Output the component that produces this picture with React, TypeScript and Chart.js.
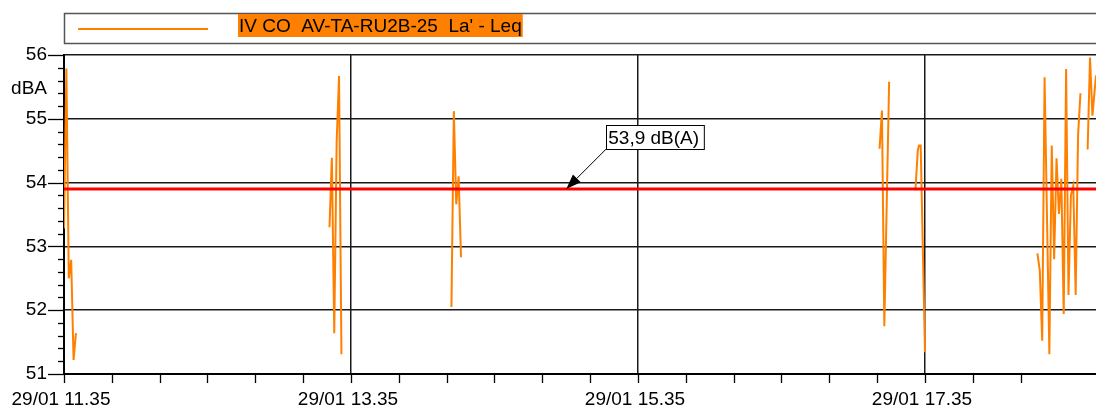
import React, { useEffect, useRef } from 'react';
import { Chart, registerables } from 'chart.js';

Chart.register(...registerables);

// ---- data ----
const seriesLabel = "IV CO  AV-TA-RU2B-25  La' - Leq";
const dateLabel = '29/01';
const startHour = 11;
const startMinute = 35;
// minutes after 29/01 11.35 (null value = no measurement -> gap)
const minutes = [
  0, 1, 2, 3, 4, 5, 6,
  111, 112, 113, 114, 115, 116, 117,
  162, 163, 164, 165, 166, 167,
  341, 342, 343, 345, 346,
  356, 357, 357.5, 358.2, 360, 361,
  407, 408, 409, 410, 412, 413, 414, 415, 416, 417, 418, 419, 420, 421, 422, 423, 424, 425, 426,
  428, 429, 430, 431.5,
];
const leq = [
  53.28, 55.79, 52.5, 52.79, 51.22, 51.64, null,
  53.3, 54.39, 51.64, 54.64, 55.67, 51.31, null,
  52.05, 55.12, 53.66, 54.1, 52.83, null,
  54.53, 55.13, 51.75, 55.58, null,
  53.88, 54.51, 54.58, 54.58, 51.34, null,
  52.89, 52.62, 51.52, 55.65, 51.31, 54.58, 52.8, 54.38, 53.51, 54.06, 51.94, 55.78, 52.24, 53.8, 53.95, 52.24, 54.74, 55.4, null,
  54.52, 55.96, 55.05, 55.68,
];
const limitValue = 53.9;
const limitLabel = '53,9 dB(A)';
const arrowTipMinute = 210;
const yUnit = 'dBA';
const xMin = 0;
const xMax = 431.5;
const yMin = 51;
const yMax = 56;
const xMinorStep = 20;
const xMajorStep = 120;
const yMinorStep = 0.2;

const FONT = '"Liberation Sans", Arial, sans-serif';
const ORANGE = '#ff8000';

const isInt = (v: number) => Math.abs(v - Math.round(v)) < 1e-6;
const isMajorX = (v: number) => Math.abs(v % xMajorStep) < 1e-6;

function timeLabel(v: number) {
  const total = startHour * 60 + startMinute + v;
  const h = Math.floor(total / 60);
  const m = Math.round(total % 60);
  return `${dateLabel} ${h}.${String(m).padStart(2, '0')}`;
}

const decorPlugin = {
  id: 'decor',
  afterDraw(chart: any) {
    const ctx = chart.ctx as CanvasRenderingContext2D;
    const { left, bottom } = chart.chartArea;
    const xs = chart.scales.x;
    const ys = chart.scales.y;
    ctx.save();
    // tick marks
    ctx.strokeStyle = '#000';
    ctx.lineWidth = 1.3;
    ys.ticks.forEach((t: any) => {
      const py = Math.round(ys.getPixelForValue(t.value)) + 0.5;
      const len = isInt(t.value) ? 16 : 6;
      ctx.beginPath();
      ctx.moveTo(left - len, py);
      ctx.lineTo(left, py);
      ctx.stroke();
    });
    xs.ticks.forEach((t: any) => {
      if (Math.abs(t.value % xMinorStep) > 1e-6) return;
      const px = Math.round(xs.getPixelForValue(t.value)) + 0.5;
      ctx.beginPath();
      ctx.moveTo(px, bottom);
      ctx.lineTo(px, bottom + 9);
      ctx.stroke();
    });
    // unit label
    ctx.font = `19px ${FONT}`;
    ctx.fillStyle = '#000';
    ctx.textAlign = 'right';
    ctx.textBaseline = 'middle';
    ctx.fillText(yUnit, left - 17, ys.getPixelForValue(55.5) + 2);

    // legend
    ctx.strokeStyle = '#555';
    ctx.lineWidth = 1.5;
    ctx.strokeRect(left + 0.5, 13.5, 1200, 30);
    ctx.strokeStyle = ORANGE;
    ctx.lineWidth = 2;
    ctx.beginPath();
    ctx.moveTo(left + 14, 29);
    ctx.lineTo(left + 144, 29);
    ctx.stroke();
    ctx.textAlign = 'left';
    ctx.textBaseline = 'alphabetic';
    const tw = ctx.measureText(seriesLabel).width;
    ctx.fillStyle = ORANGE;
    ctx.fillRect(238, 14, tw + 2, 23);
    ctx.fillStyle = '#000';
    ctx.fillText(seriesLabel, 239, 32);

    // annotation
    const tipX = xs.getPixelForValue(arrowTipMinute);
    const tipY = ys.getPixelForValue(limitValue);
    const bx = tipX + 40;
    const by = tipY - 40;
    const lw = ctx.measureText(limitLabel).width;
    const boxW = lw + 7;
    const boxH = 24;
    ctx.fillStyle = '#fff';
    ctx.fillRect(bx, by - boxH, boxW, boxH);
    ctx.strokeStyle = '#000';
    ctx.lineWidth = 1;
    ctx.strokeRect(Math.round(bx) + 0.5, Math.round(by - boxH) + 0.5, boxW, boxH);
    ctx.fillStyle = '#000';
    ctx.fillText(limitLabel, bx + 2, by - 5);
    // arrow
    const dx = tipX - bx;
    const dy = tipY - by;
    const d = Math.hypot(dx, dy);
    const ux = dx / d;
    const uy = dy / d;
    const hl = 15;
    const hw = 5.5;
    const baseX = tipX - ux * hl;
    const baseY = tipY - uy * hl;
    ctx.beginPath();
    ctx.moveTo(bx, by);
    ctx.lineTo(baseX, baseY);
    ctx.lineWidth = 1;
    ctx.stroke();
    ctx.beginPath();
    ctx.moveTo(tipX, tipY);
    ctx.lineTo(baseX - uy * hw, baseY + ux * hw);
    ctx.lineTo(baseX + uy * hw, baseY - ux * hw);
    ctx.closePath();
    ctx.fill();
    ctx.restore();
  },
};

export default function App() {
  const ref = useRef<HTMLCanvasElement | null>(null);
  useEffect(() => {
    if (!ref.current) return;
    const points = minutes.map((m, i) => ({ x: m, y: leq[i] }));
    const chart = new Chart(ref.current, {
      type: 'line',
      data: {
        datasets: [
          {
            label: limitLabel,
            data: [
              { x: xMin, y: limitValue },
              { x: xMax, y: limitValue },
            ],
            borderColor: '#ff0000',
            borderWidth: 3,
            pointRadius: 0,
          },
          {
            label: seriesLabel,
            data: points as any,
            borderColor: ORANGE,
            borderWidth: 2,
            pointRadius: 0,
            spanGaps: false,
            tension: 0,
          },
        ],
      },
      options: {
        animation: false,
        responsive: false,
        devicePixelRatio: 1,
        events: [],
        layout: { padding: { top: 55, left: 0, right: 0, bottom: 0 } },
        plugins: { legend: { display: false }, tooltip: { enabled: false } },
        scales: {
          x: {
            type: 'linear',
            min: xMin,
            max: xMax,
            afterFit: (s: any) => {
              s.height = 35;
              s.paddingRight = 0;
              s.paddingLeft = 0;
            },
            ticks: {
              stepSize: xMinorStep,
              autoSkip: false,
              maxRotation: 0,
              padding: 14,
              labelOffset: -3,
              color: '#000',
              font: { family: FONT, size: 19 },
              callback: (v: any) => (isMajorX(Number(v)) ? timeLabel(Number(v)) : ''),
            },
            grid: {
              drawTicks: false,
              lineWidth: 1.5,
              color: (c: any) => (c.tick && isMajorX(c.tick.value) ? '#1a1a1a' : 'rgba(0,0,0,0)'),
            },
            border: { display: true, color: '#000', width: 2 },
          },
          y: {
            type: 'linear',
            min: yMin,
            max: yMax,
            afterFit: (s: any) => {
              s.width = 64;
            },
            ticks: {
              stepSize: yMinorStep,
              autoSkip: false,
              padding: 17,
              color: '#000',
              font: { family: FONT, size: 19 },
              callback: (v: any) => (isInt(Number(v)) ? String(Math.round(Number(v))) : ''),
            },
            grid: {
              drawTicks: false,
              lineWidth: 1.5,
              color: (c: any) => (c.tick && isInt(c.tick.value) ? '#1a1a1a' : 'rgba(0,0,0,0)'),
            },
            border: { display: true, color: '#000', width: 2 },
          },
        },
      },
      plugins: [decorPlugin],
    });
    return () => chart.destroy();
  }, []);
  return (
    <div style={{ position: 'absolute', left: 0, top: 0, width: 1096, height: 409, background: '#fff' }}>
      <canvas ref={ref} width={1096} height={409} style={{ display: 'block' }} />
    </div>
  );
}
